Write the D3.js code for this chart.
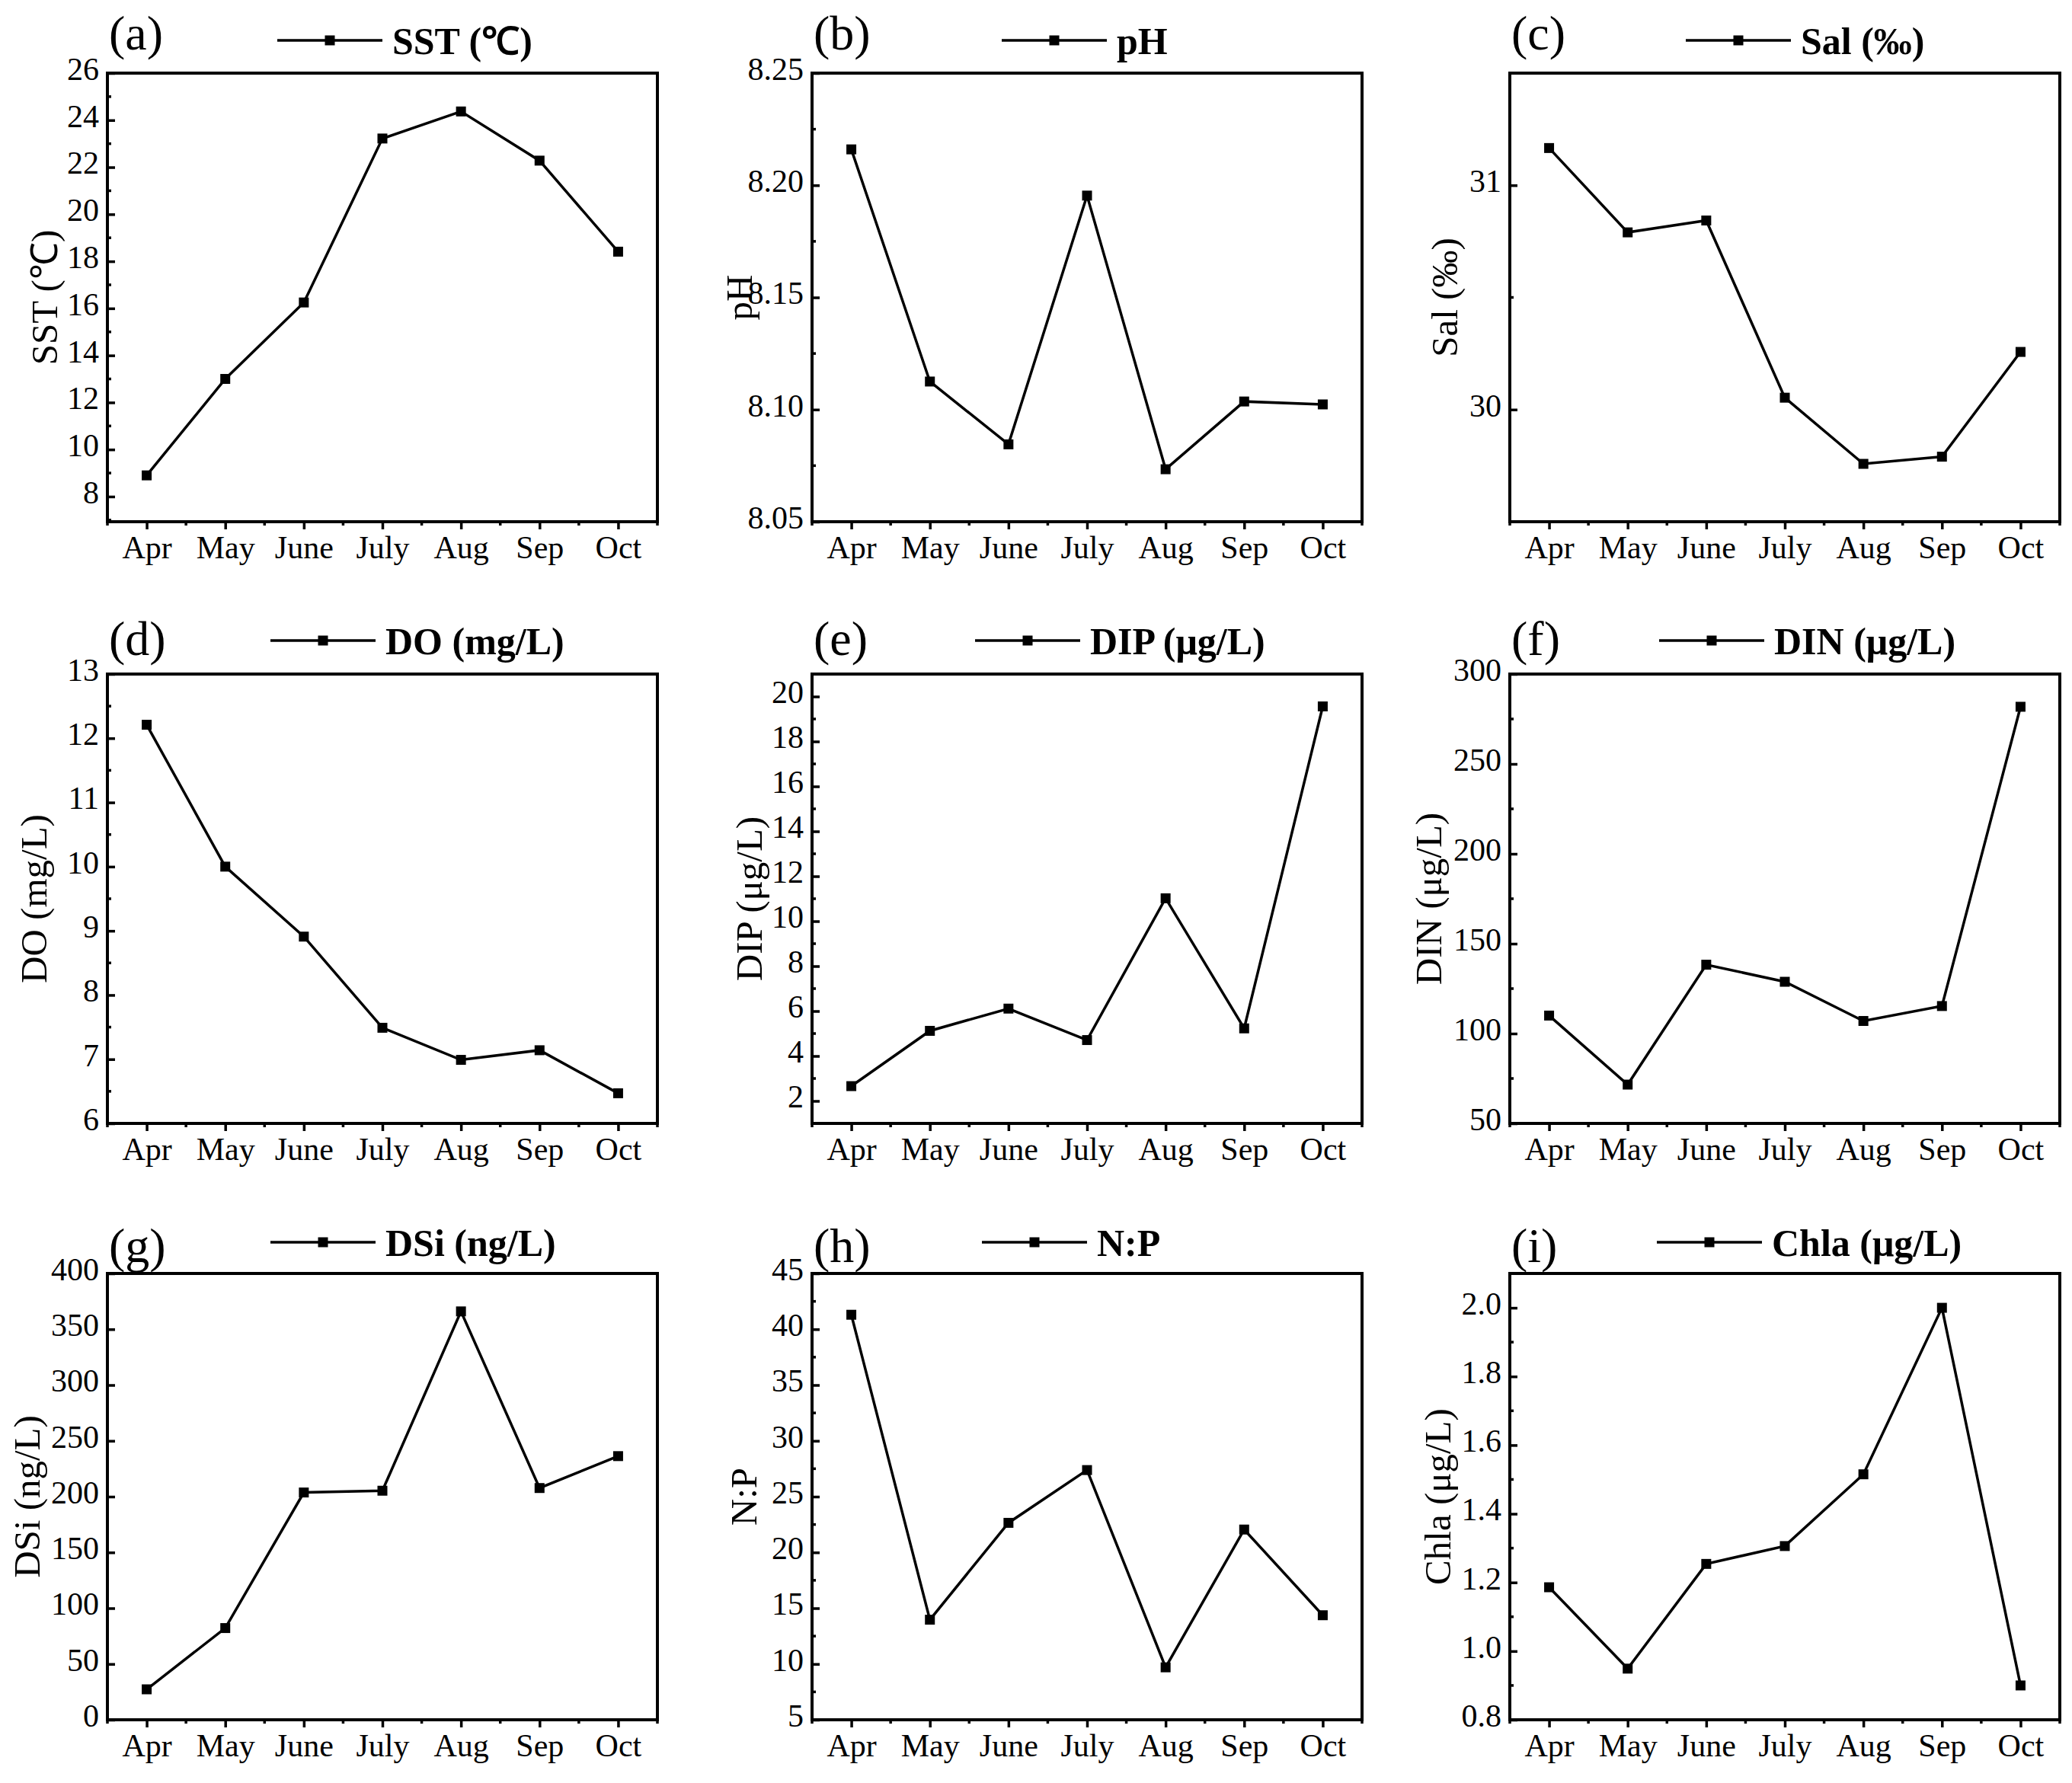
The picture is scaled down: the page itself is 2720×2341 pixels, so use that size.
<!DOCTYPE html>
<html>
<head>
<meta charset="utf-8">
<script src="https://cdn.jsdelivr.net/npm/d3@7"></script>
<style>
    body { margin: 0; background: #fff; }
    text { font-family: "Liberation Serif", "Times New Roman", serif; fill: #000; }
</style>
</head>
<body>
<div id="chart"></div>
<script>

// months on the x axis
var months = ["Apr", "May", "June", "July", "Aug", "Sep", "Oct"];

// monthly values
var sst  = [8.9, 13.0, 16.25, 23.22, 24.37, 22.28, 18.41];
var ph   = [8.216, 8.1125, 8.0845, 8.1954, 8.0734, 8.1036, 8.1023];
var sal  = [31.166, 30.79, 30.843, 30.053, 29.758, 29.79, 30.257];
var dO   = [12.21, 10.0, 8.91, 7.49, 6.99, 7.14, 6.47];
var dip  = [2.66, 5.12, 6.11, 4.71, 11.02, 5.23, 19.56];
var din  = [110, 71.6, 138.3, 128.8, 107, 115.3, 281.8];
var dsi  = [27.3, 82.2, 203.7, 205.3, 366, 207.7, 236.3];
var np   = [41.3, 13.97, 22.65, 27.38, 9.7, 22.05, 14.37];
var chla = [1.186, 0.949, 1.254, 1.306, 1.515, 2.0, 0.9];

// labelled y ticks
var sstTicks  = [8, 10, 12, 14, 16, 18, 20, 22, 24, 26];
var phTicks   = [8.05, 8.10, 8.15, 8.20, 8.25];
var salTicks  = [30, 31];
var doTicks   = [6, 7, 8, 9, 10, 11, 12, 13];
var dipTicks  = [2, 4, 6, 8, 10, 12, 14, 16, 18, 20];
var dinTicks  = [50, 100, 150, 200, 250, 300];
var dsiTicks  = [0, 50, 100, 150, 200, 250, 300, 350, 400];
var npTicks   = [5, 10, 15, 20, 25, 30, 35, 40, 45];
var chlaTicks = [0.8, 1.0, 1.2, 1.4, 1.6, 1.8, 2.0];

// one entry per panel, built from the arrays above
var panels = [
    {tag: "(a)", name: "SST (℃)",     values: sst,  domain: [6.93, 26],   ticks: sstTicks,  minor: 1,     fmt: "d"},
    {tag: "(b)", name: "pH",          values: ph,   domain: [8.05, 8.25], ticks: phTicks,   minor: 0.025, fmt: ".2f"},
    {tag: "(c)", name: "Sal (‰)",     values: sal,  domain: [29.5, 31.5], ticks: salTicks,  minor: 0.5,   fmt: "d"},
    {tag: "(d)", name: "DO (mg/L)",   values: dO,   domain: [6, 13],      ticks: doTicks,   minor: 0.5,   fmt: "d"},
    {tag: "(e)", name: "DIP (μg/L)",  values: dip,  domain: [1, 21],      ticks: dipTicks,  minor: 1,     fmt: "d"},
    {tag: "(f)", name: "DIN (μg/L)",  values: din,  domain: [50, 300],    ticks: dinTicks,  minor: 25,    fmt: "d"},
    {tag: "(g)", name: "DSi (ng/L)",  values: dsi,  domain: [0, 400],     ticks: dsiTicks,  minor: null,  fmt: "d"},
    {tag: "(h)", name: "N:P",         values: np,   domain: [5, 45],      ticks: npTicks,   minor: 2.5,   fmt: "d"},
    {tag: "(i)", name: "Chla (μg/L)", values: chla, domain: [0.8, 2.1],   ticks: chlaTicks, minor: 0.1,   fmt: ".1f"}
];

// page layout
var svgWidth = 2720;
var svgHeight = 2341;
var colLeft = [141, 1066, 1982];
var rowTop = [96, 885, 1672];
var rowHeight = [589, 590, 586];
var plotWidth = 722;
var legendStart = [223, 249, 231, 214, 214, 196, 214, 223, 193];
var titleOffset = [83, 96, 86, 97, 83, 107, 106, 90, 95];
var tagOffset = [31, 25, 15];
var legendOffset = [43, 44, 41];

var svg = d3.select("#chart")
    .append("svg")
    .attr("width", svgWidth)
    .attr("height", svgHeight);

svg.append("rect")
    .attr("width", svgWidth)
    .attr("height", svgHeight)
    .attr("fill", "#fff");

panels.forEach(function(p, i) {

    var row = Math.floor(i / 3);
    var col = i % 3;
    var left = colLeft[col];
    var top = rowTop[row];
    var height = rowHeight[row];

    var g = svg.append("g")
        .attr("transform", `translate(${left}, ${top})`);

    // scales
    var xScale = d3.scalePoint()
        .domain(months)
        .range([0, plotWidth])
        .padding(0.5);

    var yScale = d3.scaleLinear()
        .domain(p.domain)
        .range([height, 0]);

    // y axis, ticks pointing into the plot
    var leftAxis = d3.axisLeft(yScale)
        .tickValues(p.ticks)
        .tickFormat(d3.format(p.fmt))
        .tickSizeInner(-10)
        .tickSizeOuter(0)
        .tickPadding(11);

    var yAxisGroup = g.append("g").call(leftAxis);
    yAxisGroup.select(".domain").remove();
    yAxisGroup.selectAll(".tick line").attr("stroke", "#000").attr("stroke-width", 3.5);
    yAxisGroup.selectAll(".tick text")
        .attr("dy", "0.2em")
        .style("font-size", "42px")
        .style("font-family", "'Liberation Serif', serif");

    // y minor ticks
    if (p.minor) {
        var k0 = Math.ceil(p.domain[0] / p.minor - 1e-9);
        var k1 = Math.floor(p.domain[1] / p.minor + 1e-9);
        var minorY = d3.range(k0, k1 + 1)
            .map(k => k * p.minor)
            .filter(v => !p.ticks.some(t => Math.abs(t - v) < 1e-9));
        g.selectAll(".yminor")
            .data(minorY)
            .enter()
            .append("line")
            .attr("x1", 0)
            .attr("x2", 5)
            .attr("y1", d => yScale(d))
            .attr("y2", d => yScale(d))
            .attr("stroke", "#000")
            .attr("stroke-width", 3.5);
    }

    // x axis, ticks pointing down
    var bottomAxis = d3.axisBottom(xScale)
        .tickSizeInner(10)
        .tickSizeOuter(0)
        .tickPadding(8);

    var xAxisGroup = g.append("g")
        .attr("transform", `translate(0, ${height})`)
        .call(bottomAxis);
    xAxisGroup.select(".domain").remove();
    xAxisGroup.selectAll(".tick line").attr("stroke", "#000").attr("stroke-width", 3.5);
    xAxisGroup.selectAll(".tick text")
        .style("font-size", "42px")
        .style("font-family", "'Liberation Serif', serif");

    // x minor ticks halfway between months
    var step = xScale.step();
    var minorX = d3.range(months.length + 1).map(k => xScale(months[0]) - step / 2 + k * step);
    g.selectAll(".xminor")
        .data(minorX)
        .enter()
        .append("line")
        .attr("x1", d => d)
        .attr("x2", d => d)
        .attr("y1", height)
        .attr("y2", height + 5)
        .attr("stroke", "#000")
        .attr("stroke-width", 3.5);

    // frame
    g.append("rect")
        .attr("width", plotWidth)
        .attr("height", height)
        .attr("fill", "none")
        .attr("stroke", "#000")
        .attr("stroke-width", 4);

    // line and square markers
    var line = d3.line()
        .x((d, j) => xScale(months[j]))
        .y(d => yScale(d));

    g.append("path")
        .datum(p.values)
        .attr("d", line)
        .attr("fill", "none")
        .attr("stroke", "#000")
        .attr("stroke-width", 3.5)
        .attr("stroke-linejoin", "miter");

    var markerSize = 13;
    g.selectAll(".marker")
        .data(p.values)
        .enter()
        .append("rect")
        .attr("x", (d, j) => xScale(months[j]) - markerSize / 2)
        .attr("y", d => yScale(d) - markerSize / 2)
        .attr("width", markerSize)
        .attr("height", markerSize)
        .attr("fill", "#000");

    // y axis title
    g.append("text")
        .attr("transform", `translate(${-titleOffset[i]}, ${height / 2}) rotate(-90)`)
        .attr("text-anchor", "middle")
        .attr("dy", "0.35em")
        .style("font-size", "49px")
        .text(p.name);

    // panel tag
    g.append("text")
        .attr("x", 2)
        .attr("y", -tagOffset[row])
        .style("font-size", "64px")
        .text(p.tag);

    // legend
    var ly = -legendOffset[row];
    var lx = legendStart[i];
    g.append("line")
        .attr("x1", lx)
        .attr("x2", lx + 138)
        .attr("y1", ly)
        .attr("y2", ly)
        .attr("stroke", "#000")
        .attr("stroke-width", 3.5);
    g.append("rect")
        .attr("x", lx + 69 - markerSize / 2)
        .attr("y", ly - markerSize / 2)
        .attr("width", markerSize)
        .attr("height", markerSize)
        .attr("fill", "#000");
    g.append("text")
        .attr("x", lx + 151)
        .attr("y", ly)
        .attr("dy", "0.35em")
        .style("font-size", "50px")
        .style("font-weight", "bold")
        .text(p.name);
});

</script>
</body>
</html>
